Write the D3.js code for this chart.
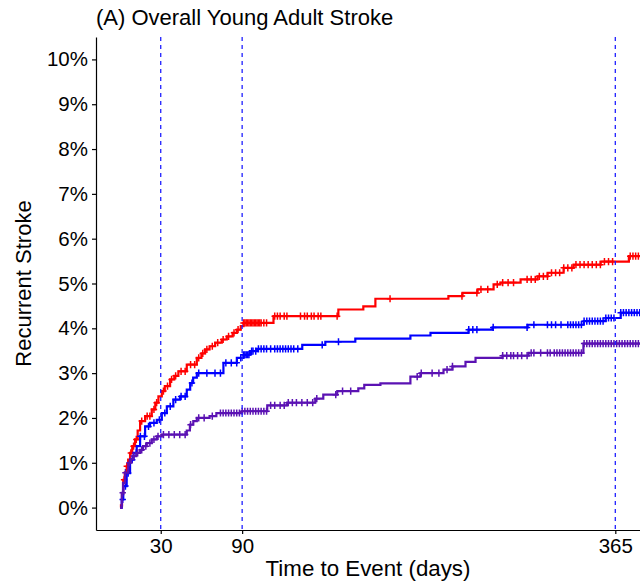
<!DOCTYPE html>
<html>
<head>
<meta charset="utf-8">
<script src="https://cdn.jsdelivr.net/npm/d3@7"></script>
<style>
  body { margin: 0; background: #fff; }
  text { font-family: "Liberation Sans", Arial, Helvetica, sans-serif; fill: #000; }
</style>
</head>
<body>
<div id="chart"></div>
<script>
// step curves: time (days) and cumulative incidence (%)
var redTime = [0, 0.7, 1.5, 2.4, 3.5, 4.9, 6, 7.4, 9, 11.1, 13, 14.8, 18.5, 23.4, 26, 28.3, 30.8, 33, 36.9, 40,
  43, 49.2, 56.6, 60, 62.7, 66, 70.1, 75, 78.7, 83, 86.1, 89, 91, 113.1, 160.9, 179.3, 188.2, 242, 252.4, 263.5,
  275.3, 280.4, 295.2, 307.7, 315.1, 326.9, 334.3, 354.2, 375];
var redPct = [0, 0.05, 0.3, 0.62, 0.78, 0.92, 1.07, 1.22, 1.37, 1.52, 1.72, 1.93, 2.04, 2.19, 2.34, 2.48, 2.6, 2.71, 2.86, 2.94,
  3.04, 3.19, 3.34, 3.44, 3.53, 3.6, 3.68, 3.75, 3.82, 3.9, 3.97, 4.05, 4.12, 4.27, 4.42, 4.49, 4.66, 4.72, 4.79, 4.87,
  4.98, 5.02, 5.09, 5.16, 5.24, 5.35, 5.42, 5.49, 5.61];

var blueTime = [0, 1.3, 2.4, 4.9, 7.4, 10, 12.3, 14.8, 18.5, 22.1, 27.1, 30.8, 34.5, 39.3, 44.3, 49.2, 51.7, 53.9, 56.6, 76.2,
  86.1, 91, 95.9, 100.9, 134.3, 151.3, 173.4, 214, 228.8, 256.8, 274.5, 300.4, 341.7, 357.9, 369];
var bluePct = [0, 0.18, 0.48, 0.77, 1.07, 1.22, 1.37, 1.59, 1.81, 1.89, 1.96, 2.11, 2.26, 2.41, 2.48, 2.63, 2.78, 2.9, 3.0, 3.23,
  3.34, 3.41, 3.49, 3.54, 3.63, 3.70, 3.77, 3.84, 3.9, 3.97, 4.02, 4.08, 4.16, 4.23, 4.35];

var purpleTime = [0, 1.3, 2.2, 3.7, 6.1, 8, 9.8, 12, 14.8, 17, 19.7, 23.4, 27.1, 30.8, 49.2, 51.5, 54, 56.6, 66, 71,
  90, 108.5, 123.2, 143.9, 149.8, 160.1, 175.6, 180, 191.9, 214, 221.4, 238.4, 245, 254.6, 262, 281.9, 301.1, 341.5];
var purplePct = [0, 0.33, 0.55, 0.78, 1.0, 1.08, 1.15, 1.22, 1.29, 1.37, 1.44, 1.52, 1.59, 1.63, 1.72, 1.85, 1.93, 2.0, 2.04, 2.11,
  2.15, 2.28, 2.34, 2.43, 2.52, 2.60, 2.66, 2.74, 2.77, 2.92, 3.0, 3.08, 3.15, 3.25, 3.34, 3.39, 3.45, 3.66];

// censoring times (days)
var redCensor = [3, 5, 8, 10, 12, 16, 20, 22, 25, 27, 32, 35, 38, 41, 45, 48, 52, 55, 58, 61, 64, 68, 72, 76, 80, 84, 87,
  91, 92, 93, 94, 95, 96, 97, 98, 99, 100, 101, 102, 103, 104, 106, 108, 114, 116, 118, 121, 123, 133, 136, 138, 141,
  143, 146, 148, 160, 199, 252, 263, 266, 271, 278, 282, 286, 290, 300, 303, 306, 309, 312, 315, 318, 321, 324, 327,
  330, 333, 336, 339, 342, 345, 348, 351, 354, 357, 360, 363, 376, 378, 380, 382];
var blueCensor = [2, 4, 6, 9, 12, 15, 18, 21, 25, 29, 33, 37, 41, 45, 48, 53, 58, 64, 70, 74, 78, 82, 86, 89, 91, 92, 93,
  94, 95, 97, 98, 100, 102, 104, 106, 108, 111, 114, 116, 118, 120, 122, 124, 126, 128, 131, 149, 161, 257, 260, 263,
  275, 300, 305, 315, 318, 321, 325, 330, 332, 334, 336, 338, 340, 342, 344, 346, 348, 350, 352, 354, 356, 358, 360,
  362, 364, 369, 371, 373, 375, 377, 379, 381, 383];
var purpleCensor = [2, 4, 7, 10, 13, 16, 19, 22, 25, 28, 32, 36, 40, 44, 48, 52, 58, 62, 68, 74, 76, 78, 80, 82, 84, 86,
  88, 90, 92, 94, 96, 98, 100, 102, 104, 106, 108, 111, 114, 118, 121, 124, 127, 130, 134, 138, 142, 145, 159, 164,
  170, 219, 222, 230, 235, 241, 245, 282, 285, 288, 290, 293, 296, 300, 303, 305, 310, 315, 317, 320, 322, 324, 326,
  328, 330, 332, 334, 336, 338, 340, 342, 344, 346, 348, 350, 352, 354, 356, 358, 360, 362, 364, 366, 368, 370, 372,
  374, 376, 378, 380, 382, 384];

var endTime = 384;
var yTicks = [0, 1, 2, 3, 4, 5, 6, 7, 8, 9, 10];
var xTicks = [30, 90, 365];
var refLines = [30, 90, 365];

var series = [
  { time: redTime, pct: redPct, censor: redCensor, color: "#ff0000" },
  { time: blueTime, pct: bluePct, censor: blueCensor, color: "#0000ff" },
  { time: purpleTime, pct: purplePct, censor: purpleCensor, color: "#5b12b3" }
];

// set the dimensions and margins of the graph
var margin = { top: 37, right: 0, bottom: 52, left: 96 },
  width = 640 - margin.left - margin.right,
  height = 582 - margin.top - margin.bottom;

var svg = d3.select("#chart")
  .append("svg")
  .attr("width", 640)
  .attr("height", 582)
  .append("g")
  .attr("transform", "translate(" + margin.left + "," + margin.top + ")");

var x = d3.scaleLinear()
  .domain([-17.7, 383.2])
  .range([0, width]);

var y = d3.scaleLinear()
  .domain([-0.5, 10.5])
  .range([height, 0]);

svg.append("clipPath")
  .attr("id", "clip")
  .append("rect")
  .attr("width", width)
  .attr("height", height);

function stepValue(times, pcts, t) {
  var i = d3.bisectRight(times, t) - 1;
  return pcts[Math.max(i, 0)];
}

var line = d3.line()
  .curve(d3.curveStepAfter)
  .x(function(d) { return x(d[0]); })
  .y(function(d) { return y(d[1]); });

var plot = svg.append("g").attr("clip-path", "url(#clip)");

// curves with censoring marks
series.forEach(function(s) {
  var pts = s.time.map(function(t, i) { return [t, s.pct[i]]; });
  pts.push([endTime, s.pct[s.pct.length - 1]]);
  plot.append("path")
    .datum(pts)
    .attr("fill", "none")
    .attr("stroke", s.color)
    .attr("stroke-width", 2.2)
    .attr("d", line);

  plot.selectAll(null)
    .data(s.censor)
    .enter()
    .append("path")
    .attr("transform", function(t) {
      return "translate(" + x(t) + "," + y(stepValue(s.time, s.pct, t)) + ")";
    })
    .attr("d", "M-3.2,0H3.2M0,-3.6V3.6")
    .attr("stroke", s.color)
    .attr("stroke-width", 1.5)
    .attr("fill", "none");
});

// dashed reference lines
plot.selectAll(null)
  .data(refLines)
  .enter()
  .append("line")
  .attr("x1", function(d) { return x(d); })
  .attr("x2", function(d) { return x(d); })
  .attr("y1", 0)
  .attr("y2", height)
  .attr("stroke", "#2020ff")
  .attr("stroke-width", 1.3)
  .attr("stroke-dasharray", "4,4");

// Add X axis
var xAxis = svg.append("g")
  .attr("transform", "translate(0," + height + ")")
  .call(d3.axisBottom(x).tickValues(xTicks).tickSize(4).tickSizeOuter(0));

// Add Y axis
var yAxis = svg.append("g")
  .call(d3.axisLeft(y).tickValues(yTicks).tickSize(4).tickSizeOuter(0)
    .tickFormat(function(d) { return d + "%"; }));

[xAxis, yAxis].forEach(function(a) {
  a.select(".domain").attr("stroke", "#000").attr("stroke-width", 1.2);
  a.selectAll(".tick line").attr("stroke", "#000").attr("stroke-width", 1.2);
  a.selectAll(".tick text")
    .attr("fill", "#000")
    .style("font-size", "20.5px")
    .style("font-family", "'Liberation Sans', Arial, sans-serif");
});
xAxis.selectAll(".tick text").attr("y", 8).attr("dy", "0.71em");
yAxis.selectAll(".tick text").attr("x", -8);

// title
svg.append("text")
  .attr("x", 0)
  .attr("y", 25 - margin.top)
  .style("font-size", "22px")
  .text("(A) Overall Young Adult Stroke");

// text label for the x axis
svg.append("text")
  .attr("x", width / 2)
  .attr("y", height + 46)
  .style("text-anchor", "middle")
  .style("font-size", "22.3px")
  .text("Time to Event (days)");

// text label for the y axis
svg.append("text")
  .attr("transform", "rotate(-90)")
  .attr("x", -height / 2)
  .attr("y", 31 - margin.left)
  .style("text-anchor", "middle")
  .style("font-size", "22px")
  .text("Recurrent Stroke");
</script>
</body>
</html>
